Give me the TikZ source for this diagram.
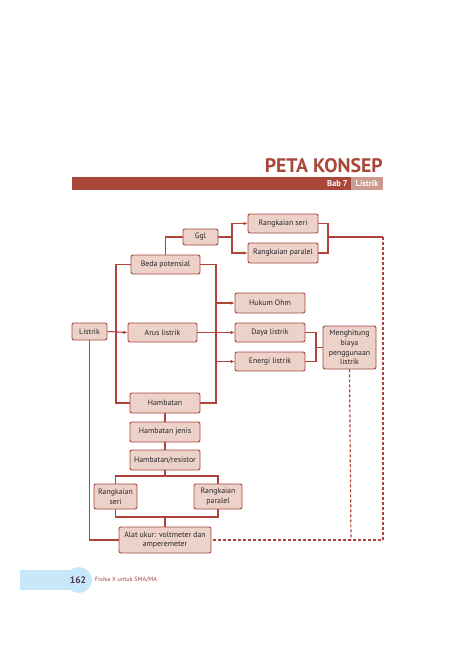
\documentclass[tikz,border=0pt]{standalone}
\usepackage{fontspec}
\usepackage{graphicx}
\setmainfont{PT Sans}
\usetikzlibrary{arrows.meta}
\definecolor{boxfill}{HTML}{EDD2CA}
\definecolor{boxdraw}{HTML}{A5463E}
\definecolor{linecol}{HTML}{B0433C}
\definecolor{barcol}{HTML}{A9473B}
\definecolor{barlight}{HTML}{CC9A8E}
\definecolor{footblue}{HTML}{C8E7F8}
\definecolor{foottext}{HTML}{A0453D}
\definecolor{pgcol}{HTML}{4A3A4E}
\tikzset{
  cbox/.style={draw=boxdraw, fill=boxfill, line width=0.9pt, rounded corners=2pt,
    inner sep=0pt, align=center, font=\fontsize{7.8}{9.6}\selectfont, text=black!85},
  conn/.style={draw=linecol, line width=1.1pt},
  arr/.style={conn, -{Latex[length=4pt,width=3.6pt]}},
  dsh/.style={draw=linecol, line width=1.2pt, dash pattern=on 3pt off 2pt}
}
\begin{document}
\begin{tikzpicture}[x=1pt,y=-1pt]
\useasboundingbox (0,0) rectangle (474,670);
% header
\node[anchor=south east, inner sep=0pt, text=barcol] (title) at (383,172.5)
  {\resizebox{118pt}{14pt}{\bfseries PETA KONSEP}};
\fill[barcol] (72,177) rectangle (383,190);
\fill[barlight] (351,177) rectangle (383,190);
\node[anchor=east, inner sep=0pt, text=white, font=\bfseries\fontsize{8.5}{10}\selectfont] (bab) at (348,183.5) {Bab 7};
\node[inner sep=0pt, text=white, font=\bfseries\fontsize{8.5}{10}\selectfont] (bl) at (367,183.5) {Listrik};
% nodes
\node[cbox, minimum width=70pt, minimum height=19pt] (seri) at (283,223.5) {Rangkaian seri};
\node[cbox, minimum width=70pt, minimum height=20pt] (paralel) at (283,253) {Rangkaian paralel};
\node[cbox, minimum width=35pt, minimum height=16pt] (ggl) at (200.5,237) {Ggl};
\node[cbox, minimum width=69pt, minimum height=19pt] (beda) at (165.5,264.5) {Beda potensial};
\node[cbox, minimum width=70pt, minimum height=20pt] (ohm) at (270,303) {Hukum Ohm};
\node[cbox, minimum width=70pt, minimum height=19pt] (daya) at (270,332.5) {Daya listrik};
\node[cbox, minimum width=70pt, minimum height=19pt] (energi) at (270,361.5) {Energi listrik};
\node[cbox, minimum width=35pt, minimum height=17pt] (listrik) at (89.5,331.5) {Listrik};
\node[cbox, minimum width=69pt, minimum height=19pt] (arus) at (162.5,332.5) {Arus listrik};
\node[cbox, minimum width=53pt, minimum height=43pt] (hitung) at (349.5,347.5) {Menghitung\\biaya\\penggunaan\\listrik};
\node[cbox, minimum width=70pt, minimum height=20pt] (hamb) at (165,403) {Hambatan};
\node[cbox, minimum width=70pt, minimum height=20pt] (hjenis) at (165,432) {Hambatan jenis};
\node[cbox, minimum width=70pt, minimum height=20pt] (hres) at (165,460) {Hambatan/resistor};
\node[cbox, minimum width=43pt, minimum height=25pt] (lseri) at (115.5,496.5) {Rangkaian\\seri};
\node[cbox, minimum width=48pt, minimum height=25pt] (lpar) at (218,496.5) {Rangkaian\\paralel};
\node[cbox, minimum width=92pt, minimum height=26pt] (alat) at (165,540) {Alat ukur: voltmeter dan\\amperemeter};
% coordinates
\coordinate (gj) at (232,237);
\coordinate (sj) at (328,237);
\coordinate (rc) at (383,237);
\coordinate (lv) at (116,264.5);
\coordinate (rv) at (216,264.5);
\coordinate (mj) at (316,347.5);
\coordinate (tj) at (165,476);
\coordinate (bj) at (165,517);
\coordinate (cr) at (383,540);
\coordinate (hm) at (351,540);
% connectors
\draw[conn] (beda.north) |- (ggl.west);
\draw[conn] (ggl.east) -- (gj);
\draw[arr] (gj) |- (seri.west);
\draw[arr] (gj) |- (paralel.west);
\draw[conn] (seri.east) -| (sj) |- (paralel.east);
\draw[conn] (sj) -- (rc);
\draw[dsh] (rc) -- (cr) -- (alat.east);
\draw[conn] (beda.west) -| (lv) |- (hamb.west);
\draw[conn] (beda.east) -| (rv) |- (hamb.east);
\draw[arr] (listrik.east) -- (arus.west);
\draw[arr] (arus.east) -- (daya.west);
\draw[arr] (rv |- ohm.west) -- (ohm.west);
\draw[arr] (rv |- energi.west) -- (energi.west);
\draw[conn] (daya.east) -| (mj) |- (energi.east);
\draw[conn] (mj) -- (hitung.west);
\draw[dsh] (hitung.south) -- (hm);
\draw[conn] (listrik.south) |- (alat.west);
\draw[conn] (hamb.south) -- (hjenis.north);
\draw[conn] (hjenis.south) -- (hres.north);
\draw[conn] (hres.south) -- (tj);
\draw[conn] (lseri.north) |- (tj) -| (lpar.north);
\draw[conn] (lseri.south) |- (bj) -| (lpar.south);
\draw[conn] (bj) -- (alat.north);
% footer
\fill[footblue] (20,570) rectangle (79,590);
\fill[footblue] (79,580) circle (13);
\node[inner sep=0pt, text=pgcol, font=\bfseries\fontsize{9.5}{10}\selectfont] (pg) at (78,580) {162};
\node[anchor=west, inner sep=0pt, text=foottext, font=\fontsize{6.2}{7}\selectfont] (ft) at (95,580) {Fisika X untuk SMA/MA};
\end{tikzpicture}
\end{document}
